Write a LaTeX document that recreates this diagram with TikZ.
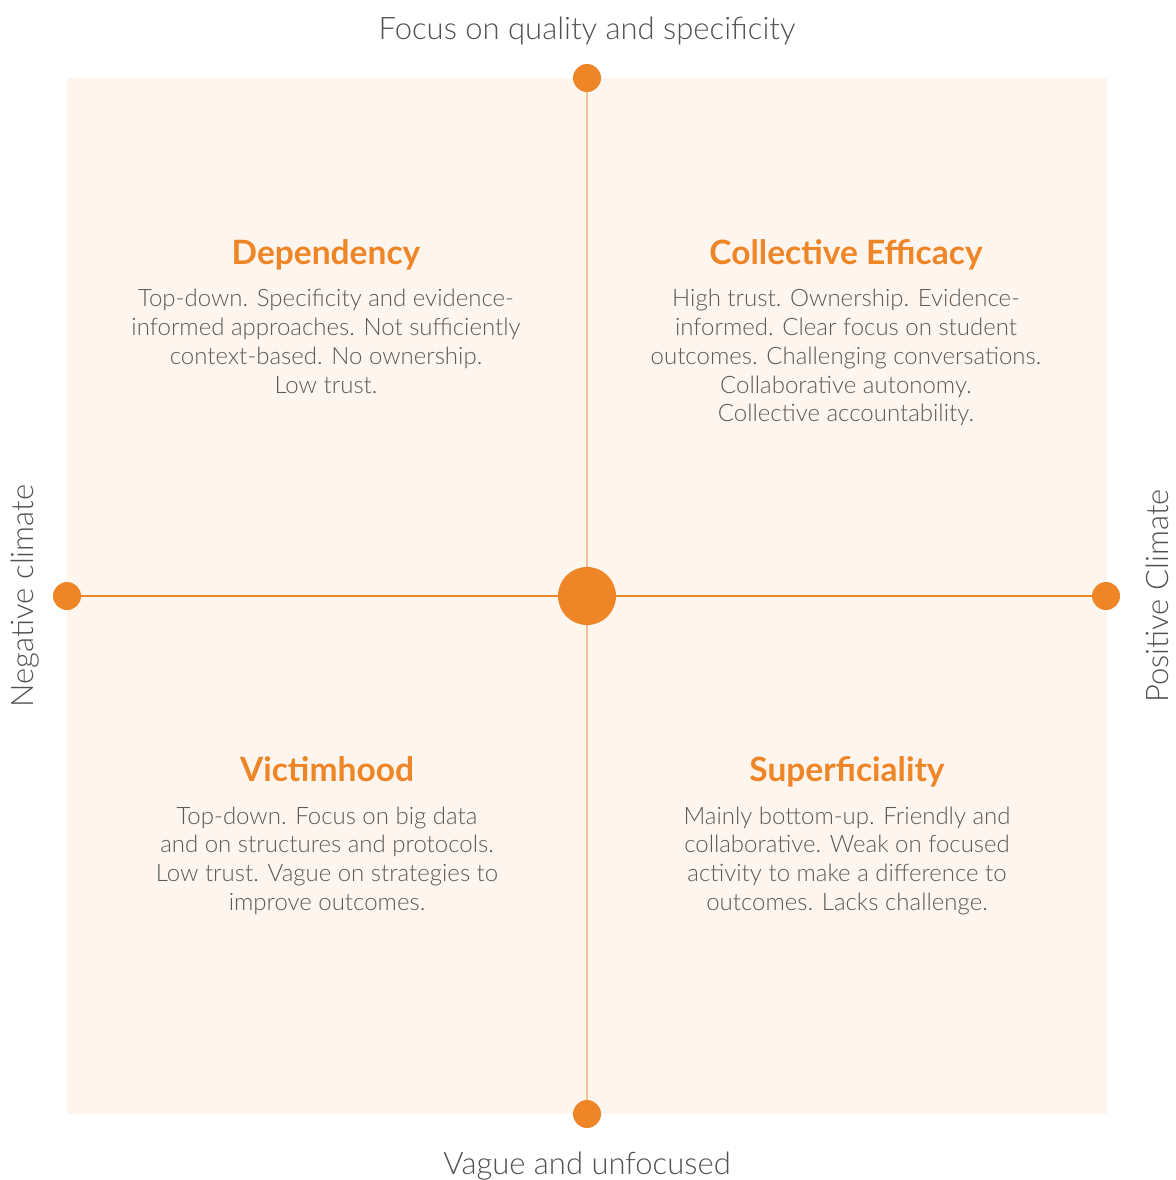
\documentclass[tikz,border=0pt]{standalone}
\usepackage{fontspec}
\setmainfont{Lato}[UprightFont=* Light, BoldFont=* Bold]
\usepackage{tikz}
\usetikzlibrary{
	positioning
}
\definecolor{accent}{HTML}{EE8526}
\definecolor{accentlight}{HTML}{F6C08F}
\definecolor{paper}{HTML}{FDF5EE}
\definecolor{ink}{HTML}{5A5A5A}
\tikzset{
	x=1pt,
	y=-1pt,
	dot/.style={
		circle,fill=accent,inner sep=0pt,minimum size=28
	},
	hub/.style={
		circle,fill=accent,inner sep=0pt,minimum size=58
	},
	axislabel/.style={
		text=ink!90!black,font=\fontsize{31}{36}\selectfont
	},
	quadtitle/.style={
		anchor=base,text=accent,font=\bfseries\fontsize{33.5}{38}\selectfont
	},
	quadtext/.style={
		anchor=north,text=ink,align=center,font=\fontsize{24}{28.7}\selectfont
	}
}

\begin{document}
\begin{tikzpicture}
	\useasboundingbox (0,0) rectangle (1175,1180);
	\fill [paper] (67,78) rectangle (1107,1114);

	\draw
		node [hub] (c) at (587,596) {}
		node [dot] (n) at (587,78)  {}
		node [dot] (s) at (587,1114) {}
		node [dot] (w) at (67,596)  {}
		node [dot] (e) at (1106,596) {}
	;
	\draw [accentlight,line width=1.3] (n) -- (c) -- (s);
	\draw [accent,line width=1.1] (w) -- (c) -- (e);

	% axis labels
	\node [axislabel] (top)    at (587,31)   {Focus on quality and specificity};
	\node [axislabel] (bottom) at (587,1166) {Vague and unfocused};
	\node [axislabel,rotate=90] (left)  at (25,596)   {Negative climate};
	\node [axislabel,rotate=90] (right) at (1157,596) {Positive Climate};

	% quadrants
	\node [quadtitle] (dep) at (326,264) {Dependency};
	\node [quadtext] (deptext) at (326,286)
		{Top-down. Specificity and evidence-\\informed approaches. Not sufficiently\\context-based. No ownership.\\Low trust.};

	\node [quadtitle] (eff) at (846,264) {Collective Efficacy};
	\node [quadtext] (efftext) at (846,286)
		{High trust. Ownership. Evidence-\\informed. Clear focus on student\\outcomes. Challenging conversations.\\Collaborative autonomy.\\Collective accountability.};

	\node [quadtitle] (vic) at (327,781) {Victimhood};
	\node [quadtext] (victext) at (327,803)
		{Top-down. Focus on big data\\and on structures and protocols.\\Low trust. Vague on strategies to\\improve outcomes.};

	\node [quadtitle] (sup) at (847,781) {Superficiality};
	\node [quadtext] (suptext) at (847,803)
		{Mainly bottom-up. Friendly and\\collaborative. Weak on focused\\activity to make a difference to\\outcomes. Lacks challenge.};
\end{tikzpicture}
\end{document}
